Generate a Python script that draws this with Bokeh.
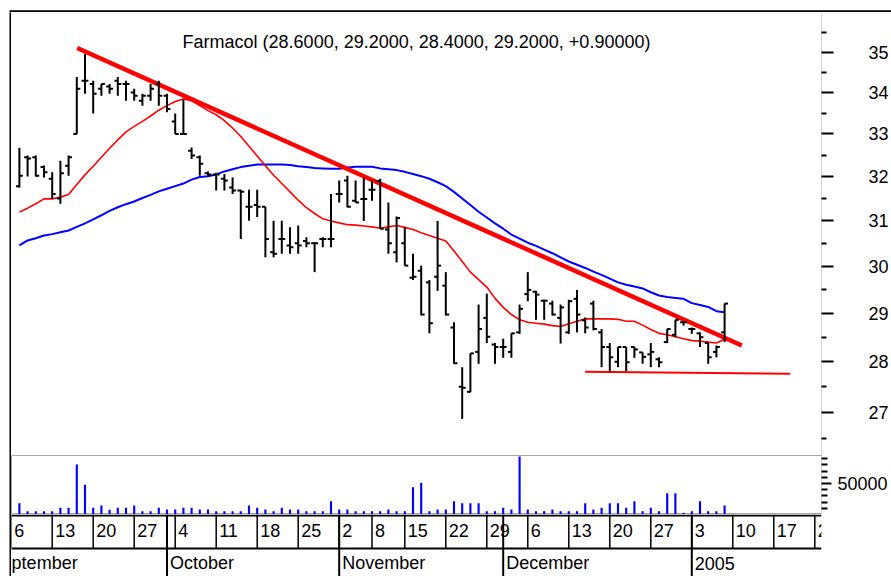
from bokeh.plotting import figure
from bokeh.layouts import column, row
from bokeh.models import Range1d, FixedTicker, Span, Label, NumeralTickFormatter, Spacer
from bokeh.embed import file_html
from bokeh.resources import INLINE
from bokeh.core.properties import value

FONT = "Liberation Sans"
FS = "18px"

title_text = "Farmacol (28.6000, 29.2000, 28.4000, 29.2000, +0.90000)"

opens = [31.78, 32.45, 32.45, 32.22, 31.95, 31.50, 32.25, 33.00, 34.29, 34.21,
         34.09, 34.15, 34.29, 34.21, 34.00, 33.80, 33.92, 34.21, 33.92, 33.30,
         33.00, 32.60, 32.45, 32.08, 32.05, 31.95, 31.75, 31.68, 31.31, 31.35,
         31.31, 30.30, 30.59, 30.45, 30.50, 30.55, 30.50, 30.59, 30.59, 31.60,
         31.91, 31.45, 31.49, 31.70, 31.90, 30.80, 30.30, 30.50, 29.75, 29.90,
         29.65, 29.77, 29.58, 28.70, 27.50, 27.40, 28.20, 28.90, 28.35, 28.30,
         28.20, 28.60, 29.40, 29.45, 29.26, 29.20, 28.90, 28.60, 29.30, 28.85,
         29.20, 28.60, 28.30, 28.00, 28.30, 28.30, 28.19, 28.15, 28.05, 28.40,
         28.55, 28.81, 28.67, 28.58, 28.38, 28.20, 28.60]
highs = [32.67, 32.49, 32.49, 32.26, 32.10, 32.37, 32.49, 34.38, 34.96, 34.29,
         34.21, 34.21, 34.38, 34.29, 34.09, 33.97, 34.21, 34.29, 33.97, 33.49,
         33.85, 32.68, 32.49, 32.12, 32.09, 32.06, 31.98, 31.70, 31.70, 31.70,
         31.31, 31.00, 31.00, 30.85, 30.89, 30.63, 30.52, 30.63, 31.60, 31.91,
         32.02, 31.91, 31.98, 31.91, 31.95, 31.41, 31.09, 30.85, 30.27, 30.01,
         29.70, 30.99, 29.87, 28.81, 27.89, 28.17, 29.18, 29.41, 28.38, 28.47,
         28.58, 29.18, 29.87, 29.47, 29.28, 29.26, 29.18, 29.28, 29.49, 28.91,
         29.26, 28.67, 28.38, 28.30, 28.30, 28.30, 28.19, 28.38, 28.09, 28.67,
         28.86, 28.83, 28.70, 28.60, 28.38, 28.33, 29.20]
lows = [31.75, 32.00, 32.00, 31.98, 31.49, 31.38, 32.02, 33.00, 33.97, 33.49,
        33.92, 33.97, 33.92, 33.80, 33.80, 33.68, 33.80, 33.68, 33.52, 33.00,
        33.00, 32.41, 32.02, 32.02, 31.68, 31.68, 31.60, 30.59, 31.00, 31.08,
        30.19, 30.19, 30.27, 30.27, 30.27, 30.41, 29.87, 30.41, 30.41, 31.41,
        31.30, 31.41, 30.99, 31.45, 30.82, 30.27, 30.08, 30.01, 29.70, 28.95,
        28.58, 29.47, 28.95, 27.96, 26.87, 27.39, 27.96, 28.38, 27.96, 28.08,
        28.08, 28.57, 29.25, 28.86, 28.86, 28.95, 28.37, 28.57, 28.60, 28.58,
        28.64, 27.89, 27.81, 27.89, 27.81, 28.08, 27.96, 27.89, 27.89, 28.38,
        28.50, 28.74, 28.57, 28.30, 27.96, 28.09, 28.40]
closes = [32.02, 32.42, 32.02, 32.10, 31.60, 32.08, 32.45, 34.09, 34.29, 33.97,
          34.21, 34.09, 34.21, 34.21, 33.92, 33.92, 34.09, 33.92, 33.60, 33.00,
          33.00, 32.49, 32.30, 32.05, 32.05, 31.91, 31.68, 31.65, 31.31, 31.31,
          30.59, 30.27, 30.59, 30.41, 30.45, 30.50, 30.50, 30.59, 30.59, 31.60,
          31.31, 31.41, 31.49, 31.70, 30.82, 30.50, 31.06, 30.01, 29.77, 28.97,
          28.79, 30.01, 28.97, 27.97, 27.48, 28.17, 28.67, 28.51, 28.30, 28.30,
          28.58, 29.09, 29.49, 29.39, 29.26, 28.97, 29.12, 29.25, 28.97, 28.70,
          28.67, 28.30, 28.09, 28.30, 27.99, 28.25, 28.10, 28.20, 27.99, 28.67,
          28.86, 28.81, 28.67, 28.50, 28.09, 28.30, 29.20]
volumes = [18200, 5300, 5300, 5300, 5300, 10800, 10800, 80600, 47900, 10800,
           14500, 7500, 10800, 10800, 14500, 5300, 5300, 10800, 8000, 8000,
           10800, 10800, 8000, 8000, 5300, 5300, 5300, 5300, 14500, 10800,
           8000, 5300, 10800, 8000, 8000, 5300, 5300, 5300, 21500, 8000,
           8000, 5300, 5300, 5300, 5300, 8000, 5300, 5300, 44000, 51100,
           5300, 8000, 8000, 21500, 18200, 18200, 18200, 5300, 5300, 10800,
           8000, 93500, 8000, 5300, 5300, 8000, 5300, 5300, 5300, 18200,
           8000, 10800, 18200, 18200, 10800, 21500, 5300, 10800, 5300, 34400,
           34400, 2700, 5300, 21500, 5300, 5300, 14500]
ma_red = [31.19, 31.28, 31.38, 31.49, 31.49, 31.53, 31.59, 31.82, 32.04, 32.24,
          32.45, 32.66, 32.86, 33.05, 33.18, 33.30, 33.43, 33.57, 33.68, 33.78,
          33.84, 33.80, 33.68, 33.56, 33.46, 33.32, 33.14, 32.94, 32.71, 32.48,
          32.25, 32.03, 31.84, 31.65, 31.46, 31.29, 31.16, 31.04, 30.99, 30.95,
          30.91, 30.90, 30.88, 30.86, 30.83, 30.86, 30.89, 30.85, 30.80, 30.73,
          30.67, 30.61, 30.55, 30.33, 30.10, 29.87, 29.71, 29.55, 29.31, 29.12,
          28.97, 28.86, 28.81, 28.79, 28.77, 28.74, 28.72, 28.78, 28.83, 28.88,
          28.88, 28.88, 28.88, 28.87, 28.83, 28.83, 28.75, 28.66, 28.58, 28.55,
          28.51, 28.47, 28.43, 28.42, 28.40, 28.38, 28.46]
ma_blue = [30.45, 30.56, 30.61, 30.67, 30.70, 30.74, 30.78, 30.86, 30.94, 31.03,
           31.12, 31.22, 31.30, 31.37, 31.43, 31.51, 31.58, 31.66, 31.72, 31.78,
           31.84, 31.93, 31.99, 32.01, 32.05, 32.12, 32.17, 32.22, 32.25, 32.28,
           32.28, 32.28, 32.28, 32.27, 32.24, 32.22, 32.20, 32.19, 32.18, 32.18,
           32.21, 32.23, 32.23, 32.23, 32.19, 32.17, 32.15, 32.11, 32.06, 32.01,
           31.95, 31.87, 31.78, 31.65, 31.50, 31.35, 31.20, 31.07, 30.94, 30.82,
           30.69, 30.60, 30.51, 30.44, 30.36, 30.28, 30.19, 30.10, 30.03, 29.96,
           29.88, 29.81, 29.73, 29.65, 29.60, 29.56, 29.52, 29.44, 29.37, 29.34,
           29.32, 29.30, 29.21, 29.17, 29.13, 29.04, 29.02]

trend_idx = [8.05, 89.1]
trend_price = [35.11, 28.33]
support_idx = [70, 95]
support_price = [27.80, 27.76]

price_ticks = [27, 28, 29, 30, 31, 32, 33, 34, 35]
price_minor = [26.5, 27.5, 28.5, 29.5, 30.5, 31.5, 32.5, 33.5, 34.5, 35.5]
vol_ticks = [50000]
vol_minor = [10000, 20000, 30000, 40000, 60000, 70000, 80000, 90000]

week_idx = [0, 5, 10, 15, 20, 25, 30, 35, 40, 44, 48, 53, 58, 63, 68, 73, 78, 83, 88, 93, 98]
week_labels = ["6", "13", "20", "27", "4", "11", "18", "25", "2", "8", "15", "22", "29",
               "6", "13", "20", "27", "3", "10", "17", "24"]
month_idx = [-3, 19, 40, 60, 83]
month_labels = ["September", "October", "November", "December", "2005"]

X0 = 0.037
PLOT_W = 810
X1 = X0 + PLOT_W / 8.2
RB = 70
PAGE_W = 891
FRAME_X = 9
TOP_H = 12

xs = list(range(1, len(closes) + 1))
tick = 0.42


def bare(fig):
    fig.grid.visible = False
    return fig


# ---------------- price panel ----------------
p = figure(frame_width=PLOT_W, frame_height=443, x_range=Range1d(X0, X1),
           y_range=Range1d(26.17, 36.02), y_axis_type="log",
           x_axis_location=None, y_axis_location="right",
           toolbar_location=None, output_backend="svg",
           min_border_left=0, min_border_top=0, min_border_bottom=0, min_border_right=RB,
           outline_line_color=None, background_fill_color="white", border_fill_color="white")
bare(p)
ya = p.yaxis[0]
ya.ticker = FixedTicker(ticks=price_ticks, minor_ticks=price_minor)
ya.formatter = NumeralTickFormatter(format="0")
ya.axis_line_color = "#d6d6d6"
ya.major_tick_in = 0
ya.major_tick_out = 12
ya.major_tick_line_width = 2
ya.major_tick_line_color = "black"
ya.minor_tick_in = 0
ya.minor_tick_out = 5
ya.minor_tick_line_width = 2
ya.minor_tick_line_color = "black"
ya.major_label_standoff = 35
ya.major_label_text_font = FONT
ya.major_label_text_font_size = FS
ya.major_label_text_color = "black"

p.line(xs, ma_blue, line_color="#0000ff", line_width=2)
p.line(xs, ma_red, line_color="#ff0000", line_width=1.6)
p.line(trend_idx, trend_price, line_color="#ff0000", line_width=4.5)
p.line(support_idx, support_price, line_color="#ff0000", line_width=2)

p.segment(x0=xs, y0=lows, x1=xs, y1=highs, line_color="black", line_width=2)
p.segment(x0=[x - tick for x in xs], y0=opens, x1=xs, y1=opens, line_color="black", line_width=2)
p.segment(x0=xs, y0=closes, x1=[x + tick for x in xs], y1=closes, line_color="black", line_width=2)

p.add_layout(Label(x=(X0 + X1) / 2, y=35.25, text=title_text, text_align="center",
                   text_baseline="middle", text_font=FONT, text_font_size=FS,
                   text_color="black"))

# ---------------- volume panel ----------------
v = figure(frame_width=PLOT_W, frame_height=59, x_range=p.x_range,
           y_range=Range1d(0, 95000), x_axis_location=None, y_axis_location="right",
           toolbar_location=None, output_backend="svg",
           min_border_left=0, min_border_top=0, min_border_bottom=0, min_border_right=RB,
           outline_line_color="#a8a8a8", outline_line_width=1,
           background_fill_color="white", border_fill_color="white")
bare(v)
va = v.yaxis[0]
va.ticker = FixedTicker(ticks=vol_ticks, minor_ticks=vol_minor)
va.formatter = NumeralTickFormatter(format="0")
va.axis_line_color = "#d6d6d6"
va.major_tick_in = 0
va.major_tick_out = 10
va.major_tick_line_width = 2
va.major_tick_line_color = "black"
va.minor_tick_in = 0
va.minor_tick_out = 6
va.minor_tick_line_width = 2
va.minor_tick_line_color = "black"
va.major_label_standoff = 6
va.major_label_text_font = FONT
va.major_label_text_font_size = FS
va.major_label_text_color = "black"
v.vbar(x=xs, top=volumes, bottom=0, width=0.26, fill_color="#0000ff", line_color=None)

# ---------------- date axis ----------------
d = figure(frame_width=PLOT_W, frame_height=62, x_range=p.x_range,
           y_range=Range1d(0.151, 2.03), x_axis_location=None, y_axis_location=None,
           toolbar_location=None, output_backend="svg",
           min_border_left=0, min_border_top=0, min_border_bottom=0, min_border_right=RB,
           outline_line_color=None, background_fill_color="white", border_fill_color="white")
bare(d)
d.add_layout(Span(location=2.0, dimension="width", line_color="black", line_width=2))
d.add_layout(Span(location=1.0, dimension="width", line_color="black", line_width=2))
d.segment(x0=week_idx, y0=1.0, x1=week_idx, y1=2.03, line_color="black", line_width=1.5)
d.segment(x0=month_idx, y0=0.151, x1=month_idx, y1=2.03, line_color="black", line_width=2)
d.text(x=week_idx, y=1.53, text=week_labels, x_offset=3, text_align="left",
       text_baseline="middle", text_font=value(FONT), text_font_size=FS, text_color="black")
d.text(x=month_idx, y=0.56, text=month_labels, x_offset=3, text_align="left",
       text_baseline="middle", text_font=value(FONT), text_font_size=FS, text_color="black")

# ---------------- outer frame ----------------
top = figure(frame_width=PAGE_W, frame_height=TOP_H, toolbar_location=None, output_backend="svg",
             x_axis_location=None, y_axis_location=None,
             x_range=Range1d(0, PAGE_W), y_range=Range1d(0, TOP_H),
             min_border_left=0, min_border_right=0, min_border_top=0, min_border_bottom=0,
             background_fill_color="white", border_fill_color="white", outline_line_color=None)
top.grid.visible = False
top.quad(left=[FRAME_X], right=[PAGE_W], bottom=[0], top=[2.2], fill_color="black", line_color=None)

left_strip = figure(frame_width=2, frame_height=443 + 59 + 62, toolbar_location=None,
                    output_backend="svg", x_axis_location=None, y_axis_location=None,
                    x_range=Range1d(0, 1), y_range=Range1d(0, 1),
                    min_border_left=0, min_border_right=0, min_border_top=0, min_border_bottom=0,
                    background_fill_color="black", border_fill_color="black",
                    outline_line_color=None)
left_strip.grid.visible = False

layout = column(
    top,
    row(Spacer(width=FRAME_X, height=1),
        left_strip,
        column(p, v, d, spacing=0),
        spacing=0),
    spacing=0)

open("out.html", "w").write(file_html(layout, INLINE, title="Farmacol"))
